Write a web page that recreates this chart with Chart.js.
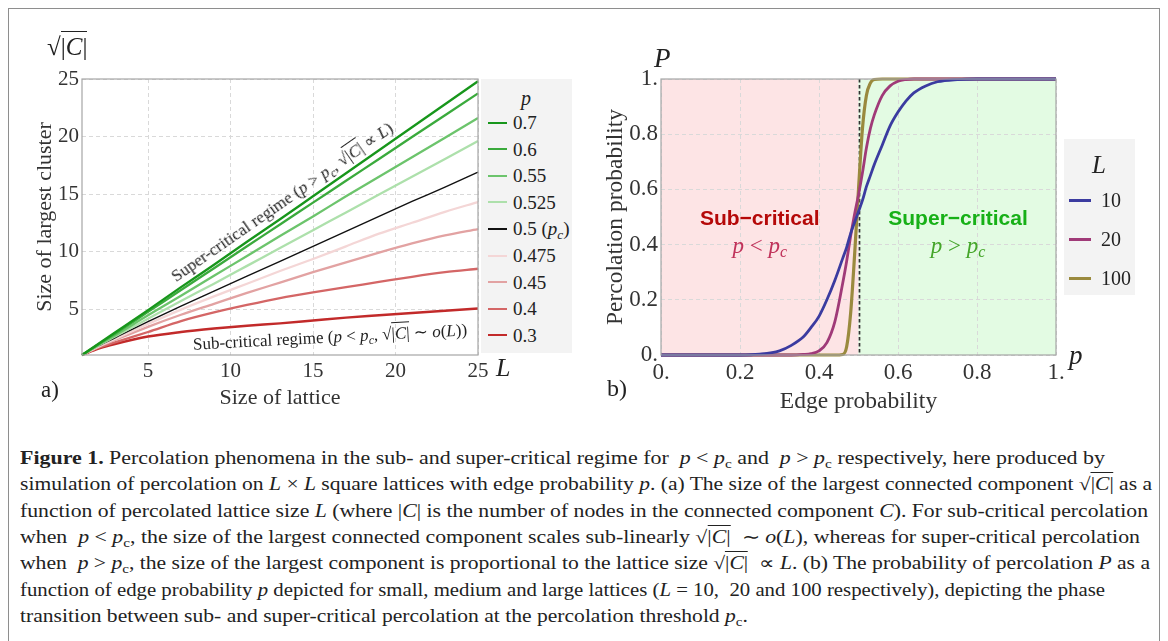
<!DOCTYPE html>
<html><head><meta charset="utf-8">
<script src="https://cdn.jsdelivr.net/npm/chart.js@4.4.0/dist/chart.umd.min.js"></script>
<style>
html,body{margin:0;padding:0;background:#fff;}
#page{position:relative;width:1168px;height:641px;overflow:hidden;font-family:"Liberation Serif","Times New Roman",serif;color:#222;background:#fff;}
#frame{position:absolute;left:8px;top:8px;width:1152px;height:650px;border:1.5px solid #8e8e8e;box-sizing:border-box;}
canvas{position:absolute;top:0;}
.abs{position:absolute;white-space:nowrap;line-height:1;}
.ctr{transform:translate(-50%,-50%);}
.legbox{position:absolute;background:#f3f3f3;}
.legrow{position:absolute;white-space:nowrap;line-height:1;}
.legline{position:absolute;}
.ol{border-top:1px solid currentColor;padding-top:1px;}
.cap{position:absolute;left:20px;white-space:nowrap;font-size:18px;line-height:1;transform-origin:0 50%;}
sub{font-size:70%;vertical-align:-0.3em;line-height:0;}
</style></head>
<body>
<div id="page">
  <div id="frame"></div>
  <canvas id="chartA" width="580" height="420" style="left:0"></canvas>
  <canvas id="chartB" width="580" height="420" style="left:580px"></canvas>
</div>
<script>
// ---------------- data: panel (a) ----------------
const latticeSizes = [1, 2, 3, 5, 7, 9, 11, 13, 15, 17, 19, 21, 23, 25];
const edgeProbLabelsA = ['0.7', '0.6', '0.55', '0.525', '0.5', '0.475', '0.45', '0.4', '0.3'];
const size_p070  = [1, 1.98, 2.95, 4.9, 6.9, 8.85, 10.85, 12.8, 14.8, 16.8, 18.8, 20.8, 22.8, 24.8];
const size_p060  = [1, 1.93, 2.85, 4.75, 6.65, 8.55, 10.45, 12.35, 14.25, 16.15, 18.05, 19.95, 21.85, 23.75];
const size_p055  = [1, 1.87, 2.7, 4.45, 6.15, 7.9, 9.6, 11.35, 13.05, 14.8, 16.5, 18.2, 19.9, 21.6];
const size_p0525 = [1, 1.83, 2.6, 4.15, 5.7, 7.2, 8.75, 10.3, 11.85, 13.4, 14.95, 16.5, 18.05, 19.6];
const size_p050  = [1, 1.79, 2.5, 3.9, 5.25, 6.55, 7.85, 9.15, 10.45, 11.75, 13.05, 14.35, 15.6, 16.9];
const size_p0475 = [1, 1.75, 2.4, 3.7, 4.95, 6.1, 7.2, 8.3, 9.35, 10.45, 11.55, 12.5, 13.45, 14.3];
const size_p045  = [1, 1.71, 2.3, 3.45, 4.5, 5.45, 6.4, 7.3, 8.2, 9.05, 9.9, 10.7, 11.4, 11.95];
const size_p040  = [1, 1.63, 2.1, 3.0, 3.95, 4.7, 5.35, 5.95, 6.45, 6.9, 7.35, 7.8, 8.2, 8.5];
const size_p030  = [1, 1.55, 1.95, 2.6, 3.0, 3.3, 3.55, 3.75, 4.0, 4.25, 4.45, 4.65, 4.85, 5.05];
const tickValuesA = [5, 10, 15, 20, 25];
const tickLabelsA = ['5', '10', '15', '20', '25'];

// ---------------- data: panel (b) ----------------
const edgeProb = [0, 0.1, 0.2, 0.25, 0.3, 0.33, 0.36, 0.38, 0.4, 0.42, 0.44, 0.46, 0.47, 0.48, 0.49, 0.5, 0.51, 0.52, 0.53, 0.54, 0.56, 0.58, 0.6, 0.62, 0.64, 0.67, 0.7, 0.75, 0.8, 0.9, 1];
const perc_L10  = [0, 0, 0, 0.003, 0.015, 0.035, 0.065, 0.1, 0.14, 0.2, 0.27, 0.35, 0.39, 0.44, 0.48, 0.52, 0.56, 0.61, 0.65, 0.69, 0.76, 0.83, 0.88, 0.92, 0.95, 0.975, 0.99, 0.998, 1, 1, 1];
const perc_L20  = [0, 0, 0, 0, 0, 0, 0.002, 0.005, 0.015, 0.045, 0.12, 0.26, 0.34, 0.43, 0.51, 0.58, 0.66, 0.75, 0.82, 0.87, 0.94, 0.975, 0.992, 0.998, 1, 1, 1, 1, 1, 1, 1];
const perc_L100 = [0, 0, 0, 0, 0, 0, 0, 0, 0, 0, 0, 0.002, 0.03, 0.15, 0.36, 0.6, 0.82, 0.94, 0.985, 0.998, 1, 1, 1, 1, 1, 1, 1, 1, 1, 1, 1];
const latticeLabelsB = ['10', '20', '100'];
const criticalP = 0.5;
const tickValuesB = [0, 0.2, 0.4, 0.6, 0.8, 1];
const tickLabelsB = ['0.', '0.2', '0.4', '0.6', '0.8', '1.'];

// ---------------- styles ----------------
const colorsA = ['#17961b', '#3aaa3c', '#6cc46c', '#ade0ab', '#111111', '#f4d6d6', '#e2a2a2', '#d46666', '#c22a2a'];
const widthsA = [2.3, 2.3, 2.3, 2.3, 1.4, 2.3, 2.3, 2.3, 2.5];
const colorsB = ['#3b3ba0', '#a03a78', '#9a8a3e'];
const widthsB = [2.8, 2.8, 3.2];
const SERIF = '"Liberation Serif","Times New Roman",serif';

const seriesA = [size_p070, size_p060, size_p055, size_p0525, size_p050, size_p0475, size_p045, size_p040, size_p030];
const seriesB = [perc_L10, perc_L20, perc_L100];

const framePlugin = {
  id: 'frame',
  afterDraw(chart) {
    const {ctx, chartArea: a} = chart;
    ctx.save();
    ctx.strokeStyle = '#a6a6a6';
    ctx.lineWidth = 1.2;
    ctx.strokeRect(a.left, a.top, a.right - a.left, a.bottom - a.top);
    ctx.restore();
  }
};

function axisCommon(min, max, tv, tl, title, fitSize, horizontal, tickSize, titleSize) {
  return {
    type: 'linear', min, max,
    afterBuildTicks: s => { s.ticks = tv.map(v => ({value: v})); },
    afterFit: s => { if (horizontal) s.height = fitSize; else s.width = fitSize; },
    ticks: {
      callback: (v) => { const i = tv.indexOf(v); return i >= 0 ? tl[i] : ''; },
      font: {family: SERIF, size: tickSize}, color: '#333', padding: horizontal ? 4 : 3, autoSkip: false, maxRotation: 0
    },
    grid: {color: '#d9d9d9', lineWidth: 1, drawTicks: false},
    border: {display: false, dash: [4, 3]},
    title: {display: true, text: title, font: {family: SERIF, size: titleSize}, color: '#333', padding: 0}
  };
}

// ---------------- chart (a) ----------------
const chartA = new Chart(document.getElementById('chartA'), {
  type: 'line',
  data: {
    datasets: seriesA.map((s, i) => ({
      label: edgeProbLabelsA[i],
      data: latticeSizes.map((L, j) => ({x: L, y: s[j]})),
      borderColor: colorsA[i], borderWidth: widthsA[i], pointRadius: 0,
      cubicInterpolationMode: 'monotone', fill: false, clip: 4
    }))
  },
  options: {
    responsive: false, animation: false, devicePixelRatio: 1,
    layout: {padding: {left: 32, top: 79, right: 102, bottom: 9}},
    plugins: {legend: {display: false}, tooltip: {enabled: false}},
    scales: {
      x: axisCommon(1, 25, tickValuesA, tickLabelsA, 'Size of lattice', 56, true, 21, 22),
      y: axisCommon(1, 25, tickValuesA, tickLabelsA, 'Size of largest cluster', 50, false, 21, 22)
    }
  },
  plugins: [framePlugin]
});

// ---------------- chart (b) ----------------
const regionPlugin = {
  id: 'regions',
  beforeDraw(chart) {
    const {ctx, chartArea: a, scales: {x}} = chart;
    const xc = x.getPixelForValue(criticalP);
    ctx.save();
    ctx.fillStyle = '#fde4e5';
    ctx.fillRect(a.left, a.top, xc - a.left, a.bottom - a.top);
    ctx.fillStyle = '#e3fbe3';
    ctx.fillRect(xc, a.top, a.right - xc, a.bottom - a.top);
    ctx.restore();
  },
  beforeDatasetsDraw(chart) {
    const {ctx, chartArea: a, scales: {x}} = chart;
    const xc = Math.round(x.getPixelForValue(criticalP)) + 0.5;
    ctx.save();
    ctx.strokeStyle = '#333';
    ctx.lineWidth = 1.7;
    ctx.setLineDash([3.5, 2.5]);
    ctx.beginPath(); ctx.moveTo(xc, a.top); ctx.lineTo(xc, a.bottom); ctx.stroke();
    ctx.restore();
  }
};

const chartB = new Chart(document.getElementById('chartB'), {
  type: 'line',
  data: {
    datasets: seriesB.map((s, i) => ({
      label: latticeLabelsB[i],
      data: edgeProb.map((p, j) => ({x: p, y: s[j]})),
      borderColor: colorsB[i], borderWidth: widthsB[i], pointRadius: 0,
      cubicInterpolationMode: 'monotone', fill: false, clip: 5
    }))
  },
  options: {
    responsive: false, animation: false, devicePixelRatio: 1,
    layout: {padding: {left: 22, top: 79, right: 104, bottom: 4}},
    plugins: {legend: {display: false}, tooltip: {enabled: false}},
    scales: {
      x: axisCommon(0, 1, tickValuesB, tickLabelsB, 'Edge probability', 61, true, 23, 23.5),
      y: axisCommon(0, 1, tickValuesB, tickLabelsB, 'Percolation probability', 59, false, 23, 23.5)
    }
  },
  plugins: [framePlugin, regionPlugin]
});

// ---------------- overlays ----------------
const page = document.getElementById('page');
function addEl(html, left, top, cls, style) {
  const d = document.createElement('div');
  d.className = cls || 'abs';
  d.innerHTML = html;
  d.style.left = left + 'px';
  d.style.top = top + 'px';
  if (style) Object.assign(d.style, style);
  page.appendChild(d);
  return d;
}
function at(chart, offX, xv, yv) {
  return [offX + chart.scales.x.getPixelForValue(xv), chart.scales.y.getPixelForValue(yv)];
}
const sq = '√<span class="ol">|<i>C</i>|</span>';

// panel (a) texts
addEl(sq, 47, 34, 'abs', {fontSize: '25px'});
addEl('<i>L</i>', 496, 355, 'abs', {fontSize: '26px'});
addEl('a)', 41, 378, 'abs', {fontSize: '23px'});
let [sx, sy] = at(chartA, 0, 13.1, 14.3);
addEl('Super-critical regime (<i>p</i> &gt; <i>p<sub>c</sub></i>, ' + sq + ' ∝ <i>L</i>)', sx, sy, 'abs',
      {fontSize: '17px', transform: 'translate(-50%,-50%) rotate(-34.8deg)'});
[sx, sy] = at(chartA, 0, 16.0, 2.6);
addEl('Sub-critical regime (<i>p</i> &lt; <i>p<sub>c</sub></i>, ' + sq + ' ∼ <i>o</i>(<i>L</i>))', sx, sy, 'abs',
      {fontSize: '17px', transform: 'translate(-50%,-50%) rotate(-3deg)'});

// legend (a)
(function () {
  const a = chartA.chartArea;
  const boxL = a.right + 3, boxT = a.top, boxW = 91, boxH = a.bottom - a.top - 2;
  addEl('', boxL, boxT, 'legbox', {width: boxW + 'px', height: boxH + 'px'});
  addEl('<i>p</i>', boxL + 45, boxT + 19, 'abs ctr', {fontSize: '20px'});
  edgeProbLabelsA.forEach((lab, i) => {
    const cy = boxT + 43.5 + i * 26.6;
    addEl('', boxL + 7, cy - 1, 'legline', {width: '19px', height: '2px', background: colorsA[i]});
    const txt = lab === '0.5' ? '0.5 (<i>p<sub>c</sub></i>)' : lab;
    addEl(txt, boxL + 32, cy - 9.5, 'legrow', {fontSize: '19px'});
  });
})();

// panel (b) texts
addEl('<i>P</i>', 654, 45, 'abs', {fontSize: '27px'});
addEl('<i>p</i>', 1069, 342, 'abs', {fontSize: '27px'});
addEl('b)', 607, 376, 'abs', {fontSize: '24px'});
[sx, sy] = at(chartB, 580, 0.25, 0.5);
addEl('Sub−critical', sx, sy, 'abs ctr', {fontFamily: '"Liberation Sans",Arial,sans-serif', fontWeight: 'bold', fontSize: '21px', color: '#b50808'});
[sx, sy] = at(chartB, 580, 0.25, 0.4);
addEl('<i>p</i> &lt; <i>p<sub>c</sub></i>', sx, sy, 'abs ctr', {fontSize: '23px', color: '#c0325a'});
[sx, sy] = at(chartB, 580, 0.752, 0.5);
addEl('Super−critical', sx, sy, 'abs ctr', {fontFamily: '"Liberation Sans",Arial,sans-serif', fontWeight: 'bold', fontSize: '21px', color: '#17b017'});
[sx, sy] = at(chartB, 580, 0.752, 0.4);
addEl('<i>p</i> &gt; <i>p<sub>c</sub></i>', sx, sy, 'abs ctr', {fontSize: '23px', color: '#45a52a'});

// legend (b)
(function () {
  const boxL = 1064, boxT = 139, boxW = 71, boxH = 156;
  addEl('', boxL, boxT, 'legbox', {width: boxW + 'px', height: boxH + 'px'});
  addEl('<i>L</i>', boxL + 35, boxT + 25, 'abs ctr', {fontSize: '25px'});
  latticeLabelsB.forEach((lab, i) => {
    const cy = boxT + 61 + i * 39;
    addEl('', boxL + 5, cy - 1.5, 'legline', {width: '22px', height: '3px', background: colorsB[i]});
    addEl(lab, boxL + 37, cy - 10, 'legrow', {fontSize: '20px'});
  });
})();

// caption
const captionLines = [
  '<b>Figure 1.</b> Percolation phenomena in the sub- and super-critical regime for &nbsp;<i>p</i> &lt; <i>p</i><sub>c</sub> and &nbsp;<i>p</i> &gt; <i>p</i><sub>c</sub> respectively, here produced by',
  'simulation of percolation on <i>L</i> × <i>L</i> square lattices with edge probability <i>p</i>. (a) The size of the largest connected component ' + sq + ' as a',
  'function of percolated lattice size <i>L</i> (where |<i>C</i>| is the number of nodes in the connected component <i>C</i>). For sub-critical percolation',
  'when &nbsp;<i>p</i> &lt; <i>p</i><sub>c</sub>, the size of the largest connected component scales sub-linearly ' + sq + ' &nbsp;∼ <i>o</i>(<i>L</i>), whereas for super-critical percolation',
  'when &nbsp;<i>p</i> &gt; <i>p</i><sub>c</sub>, the size of the largest component is proportional to the lattice size ' + sq + ' &nbsp;∝ <i>L</i>. (b) The probability of percolation <i>P</i> as a',
  'function of edge probability <i>p</i> depicted for small, medium and large lattices (<i>L</i> = 10, &nbsp;20 and 100 respectively), depicting the phase',
  'transition between sub- and super-critical percolation at the percolation threshold <i>p</i><sub>c</sub>.'
];
const captionWidths = [1085, 1132, 1128, 1120, 1130, 1085, 0];
const capEls = captionLines.map((h, i) => addEl(h, 20, 449 + i * 26.3, 'cap'));
let sum = 0, n = 0;
capEls.forEach((el, i) => {
  const w = el.getBoundingClientRect().width;
  if (captionWidths[i]) { const k = captionWidths[i] / w; el.style.transform = 'scaleX(' + k + ')'; sum += k; n++; }
});
capEls[capEls.length - 1].style.transform = 'scaleX(' + (sum / n) + ')';
</script>
</body></html>
